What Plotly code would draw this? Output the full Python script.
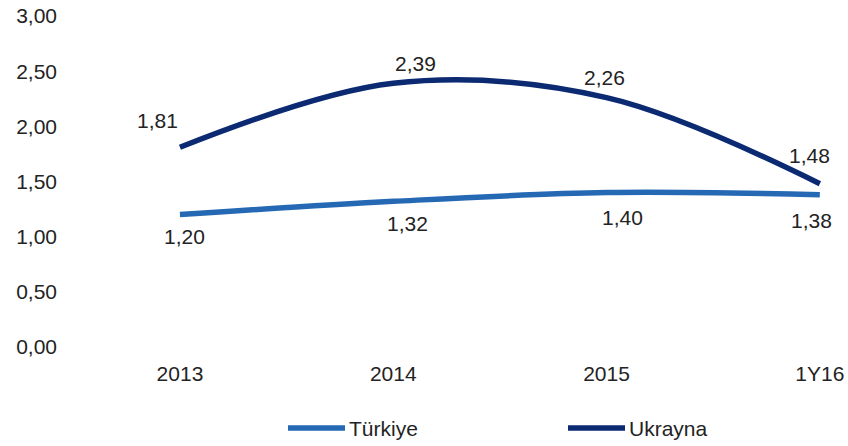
import plotly.graph_objects as go

categories = ["2013", "2014", "2015", "1Y16"]
turkiye = [1.20, 1.32, 1.40, 1.38]
ukrayna = [1.81, 2.39, 2.26, 1.48]
y_ticks = [0, 0.5, 1, 1.5, 2, 2.5, 3]
series_names = ["Türkiye", "Ukrayna"]

c_tr = "#2569b4"
c_ua = "#0b2a72"
font_fam = "Liberation Sans, Arial, sans-serif"
txt = "#232323"
FS = 21

def fmt(v):
    return f"{v:.2f}".replace(".", ",")

xs = list(range(len(categories)))

fig = go.Figure()
fig.add_trace(go.Scatter(x=xs, y=turkiye, name=series_names[0], mode="lines",
                         line=dict(color=c_tr, width=5.5, shape="spline", smoothing=1)))
fig.add_trace(go.Scatter(x=xs, y=ukrayna, name=series_names[1], mode="lines",
                         line=dict(color=c_ua, width=5.5, shape="spline", smoothing=1)))

ua_shift = [(-22, 27), (22, 20), (-2, 20), (-10, 28)]
tr_shift = [(5, -22), (14, -22), (16, -25), (-8, -26)]
for i, v in enumerate(ukrayna):
    fig.add_annotation(x=xs[i], y=v, text=fmt(v), showarrow=False,
                       xshift=ua_shift[i][0], yshift=ua_shift[i][1],
                       font=dict(size=FS, color=txt, family=font_fam))
for i, v in enumerate(turkiye):
    fig.add_annotation(x=xs[i], y=v, text=fmt(v), showarrow=False,
                       xshift=tr_shift[i][0], yshift=tr_shift[i][1],
                       font=dict(size=FS, color=txt, family=font_fam))

# manual legend (line sample + label), positioned in paper coords
L, T, B, W, H = 62, 16, 99, 848, 446
pw, ph = W - L, H - T - B
def px(x):
    return (x - L) / pw
def py(y):
    return (H - B - y) / ph

legend_items = [(288, 345, c_tr, series_names[0]), (568, 625, c_ua, series_names[1])]
for x0, x1, col, name in legend_items:
    fig.add_shape(type="line", xref="paper", yref="paper",
                  x0=px(x0), x1=px(x1), y0=py(428), y1=py(428),
                  line=dict(color=col, width=5.5))
    fig.add_annotation(xref="paper", yref="paper", x=px(x1 + 2), y=py(428),
                       xanchor="left", yanchor="middle", text=name, showarrow=False,
                       font=dict(size=FS, color=txt, family=font_fam))

fig.update_layout(
    width=W, height=H,
    margin=dict(l=L, r=0, t=T, b=B),
    paper_bgcolor="white", plot_bgcolor="white",
    font=dict(family=font_fam, size=FS, color=txt),
    showlegend=False,
    xaxis=dict(range=[-0.553, 3.132], tickvals=xs, ticktext=categories,
               showgrid=False, zeroline=False, showline=False, ticks="outside",
               ticklen=8, tickcolor="rgba(0,0,0,0)", tickfont=dict(size=FS),
               automargin=False),
    yaxis=dict(range=[0, 3], tickvals=y_ticks, ticktext=[fmt(v) for v in y_ticks],
               showgrid=False, zeroline=False, showline=False,
               ticklabelstandoff=4,
               tickfont=dict(size=FS), automargin=False),
)

fig.write_html("out.html",
               config={"displayModeBar": False},
               post_script="document.body.style.margin='0px';document.body.style.overflow='hidden';")
